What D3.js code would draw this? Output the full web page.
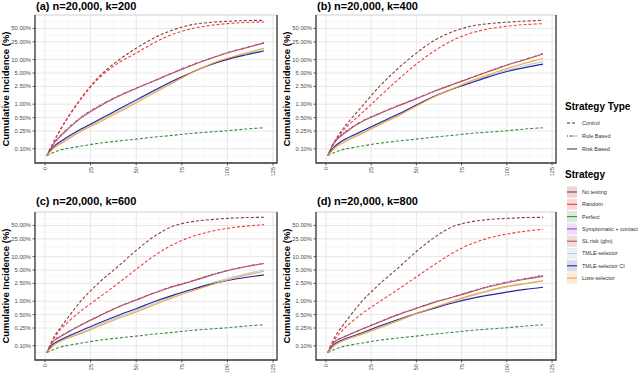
<!DOCTYPE html>
<html>
<head>
<meta charset="utf-8">
<script src="https://cdn.jsdelivr.net/npm/d3@7"></script>
<style>
  body { margin: 0; background: #fff; }
  svg { font-family: "Liberation Sans", Arial, sans-serif; }
</style>
</head>
<body>
<svg id="chart" width="640" height="374"></svg>
<script>
const days = [1, 5, 10, 20, 30, 40, 50, 60, 70, 80, 90, 100, 110, 120];

// Panel titles
const panelTitles = ["(a) n=20,000, k=200", "(b) n=20,000, k=400",
                     "(c) n=20,000, k=600", "(d) n=20,000, k=800"];

// Cumulative incidence (%) per strategy, one row per panel (a..d)
const noTesting = [
  [0.07, 0.15, 0.35, 1.4, 4.3, 9.5, 18, 31, 46, 60, 68, 72, 75, 76],
  [0.07, 0.15, 0.3, 0.9, 2.6, 6.4, 14, 27, 42, 56, 64, 69, 73, 76],
  [0.07, 0.16, 0.31, 1.04, 2.7, 6.0, 13.8, 28.5, 48, 60, 67, 72, 75, 76],
  [0.07, 0.16, 0.31, 1.0, 2.5, 5.6, 13, 27, 47, 60, 68, 72, 75, 76]
];
const random = [
  [0.07, 0.15, 0.34, 1.35, 4.0, 8.3, 14, 24, 37, 49, 58, 64, 68, 70],
  [0.07, 0.14, 0.27, 0.64, 1.53, 3.6, 7.9, 15.7, 27, 39, 49, 56, 61, 64],
  [0.07, 0.15, 0.27, 0.62, 1.24, 2.5, 5.2, 10.5, 18.5, 27.5, 36, 43, 48, 52],
  [0.07, 0.14, 0.24, 0.53, 1.0, 1.85, 3.5, 6.6, 12, 19, 26, 32, 37, 41]
];
const perfect = [
  [0.07, 0.084, 0.097, 0.115, 0.134, 0.149, 0.165, 0.183, 0.2, 0.221, 0.237, 0.254, 0.277, 0.296],
  [0.07, 0.084, 0.097, 0.115, 0.134, 0.149, 0.165, 0.183, 0.2, 0.221, 0.237, 0.254, 0.277, 0.296],
  [0.07, 0.084, 0.097, 0.115, 0.134, 0.149, 0.165, 0.183, 0.2, 0.221, 0.237, 0.254, 0.277, 0.296],
  [0.07, 0.084, 0.097, 0.115, 0.134, 0.149, 0.165, 0.183, 0.2, 0.221, 0.237, 0.254, 0.277, 0.296]
];
const symptomatic = [
  [0.07, 0.136, 0.23, 0.52, 0.94, 1.53, 2.3, 3.4, 5.1, 7.5, 10.5, 14.4, 18.6, 24],
  [0.07, 0.15, 0.23, 0.42, 0.64, 0.94, 1.35, 1.98, 2.8, 3.9, 5.5, 7.6, 10.1, 13.6],
  [0.07, 0.134, 0.18, 0.30, 0.48, 0.74, 1.08, 1.55, 2.15, 2.8, 3.8, 4.9, 6.0, 7.1],
  [0.07, 0.125, 0.16, 0.24, 0.35, 0.51, 0.7, 0.96, 1.24, 1.66, 2.15, 2.7, 3.2, 3.8]
];
const slRisk = [
  [0.07, 0.133, 0.22, 0.5, 0.9, 1.48, 2.25, 3.35, 5.0, 7.3, 10.3, 14.1, 18.2, 23.4],
  [0.07, 0.145, 0.22, 0.41, 0.62, 0.92, 1.32, 1.94, 2.75, 3.85, 5.4, 7.5, 9.9, 13.3],
  [0.07, 0.13, 0.175, 0.295, 0.47, 0.73, 1.06, 1.52, 2.1, 2.75, 3.7, 4.8, 5.9, 7.0],
  [0.07, 0.123, 0.157, 0.235, 0.345, 0.5, 0.69, 0.94, 1.22, 1.62, 2.1, 2.6, 3.1, 3.6]
];
const tmleSelector = [
  [0.07, 0.11, 0.15, 0.265, 0.43, 0.7, 1.18, 1.95, 3.15, 5.05, 7.6, 10.4, 13.4, 16.9],
  [0.07, 0.11, 0.15, 0.235, 0.37, 0.56, 0.95, 1.5, 2.2, 3.15, 4.35, 5.8, 7.4, 9.0],
  [0.07, 0.108, 0.14, 0.2, 0.3, 0.44, 0.62, 0.9, 1.28, 1.8, 2.45, 3.2, 4.1, 5.0],
  [0.07, 0.105, 0.132, 0.18, 0.255, 0.36, 0.52, 0.72, 0.98, 1.3, 1.68, 2.08, 2.42, 2.8]
];
const tmleSelectorCI = [
  [0.07, 0.115, 0.16, 0.28, 0.46, 0.76, 1.25, 2.05, 3.3, 5.1, 7.5, 10.1, 12.7, 15.6],
  [0.07, 0.115, 0.16, 0.25, 0.39, 0.6, 0.96, 1.5, 2.2, 3.0, 4.1, 5.4, 6.6, 7.9],
  [0.07, 0.113, 0.146, 0.22, 0.33, 0.48, 0.68, 0.98, 1.35, 1.8, 2.35, 2.9, 3.4, 3.9],
  [0.07, 0.11, 0.14, 0.195, 0.28, 0.39, 0.53, 0.7, 0.91, 1.14, 1.37, 1.6, 1.84, 2.06]
];
const lossSelector = [
  [0.07, 0.105, 0.14, 0.25, 0.4, 0.65, 1.08, 1.8, 3.0, 5.0, 7.7, 10.7, 14.1, 18],
  [0.07, 0.105, 0.14, 0.22, 0.35, 0.55, 0.91, 1.47, 2.2, 3.3, 4.6, 6.3, 8.3, 10.5],
  [0.07, 0.105, 0.134, 0.19, 0.28, 0.41, 0.57, 0.83, 1.2, 1.66, 2.25, 3.0, 3.8, 4.7],
  [0.07, 0.105, 0.134, 0.185, 0.26, 0.37, 0.53, 0.73, 1.0, 1.35, 1.74, 2.15, 2.5, 2.9]
];

// Axis ticks
const xTicks = [0, 25, 50, 75, 100, 125];
const yTicks = [0.1, 0.25, 0.5, 1, 2.5, 5, 10, 25, 50];

// Strategy definitions (order = drawing order)
const strategyNames = ["No testing", "Random", "Perfect", "Symptomatic + contact",
                       "SL risk (glm)", "TMLE-selector", "TMLE-selector CI", "Loss-selector"];
const strategyData = [noTesting, random, perfect, symptomatic, slRisk,
                      tmleSelector, tmleSelectorCI, lossSelector];
const strategyTypes = ["Control", "Control", "Control", "Rule Based",
                       "Risk Based", "Risk Based", "Risk Based", "Risk Based"];
const strategyColors = ["#8E3B3B", "#F23A3A", "#3E8A3E", "#A23FD6",
                        "#B35A55", "#ADD3E6", "#25259C", "#F7A437"];
const keyFills = ["#EBD6D6", "#FCD9D9", "#DCEADC", "#EEDDF7",
                  "#ECDCDA", "#EAF1F5", "#DCDCEA", "#FCEBD6"];

const typeNames = ["Control", "Rule Based", "Risk Based"];
const dashFor = {
  "Control": "3,2",
  "Rule Based": "1,1.5,3,1.5",
  "Risk Based": null
};

// Panel layout
const panels = [
  { left: 35, right: 277, top: 15, bottom: 163, titleY: 10 },
  { left: 316, right: 556, top: 15, bottom: 163, titleY: 10 },
  { left: 35, right: 277, top: 212, bottom: 360, titleY: 205 },
  { left: 316, right: 556, top: 212, bottom: 360, titleY: 205 }
];

const svg = d3.select("#chart");

const fmtPct = d => d.toFixed(2) + "%";

panels.forEach((p, pi) => {
  const x = d3.scaleLinear().domain([-5.5, 127.2]).range([p.left, p.right]);
  const y = d3.scaleLog().domain([0.048, 100]).range([p.bottom, p.top]);

  const g = svg.append("g");

  // Minor grid (midpoints in transformed space)
  const xMinor = xTicks.slice(0, -1).map(t => t + 12.5);
  const yMinor = yTicks.slice(0, -1).map((t, i) => Math.sqrt(t * yTicks[i + 1]));
  yMinor.push(Math.sqrt(50 * 100));
  yMinor.unshift(Math.sqrt(0.1 * 0.05));

  g.selectAll(".xminor").data(xMinor).enter().append("line")
    .attr("x1", d => x(d)).attr("x2", d => x(d))
    .attr("y1", p.top).attr("y2", p.bottom)
    .attr("stroke", "#f2f2f2").attr("stroke-width", 0.6);
  g.selectAll(".yminor").data(yMinor.filter(d => d > 0.048 && d < 100)).enter().append("line")
    .attr("x1", p.left).attr("x2", p.right)
    .attr("y1", d => y(d)).attr("y2", d => y(d))
    .attr("stroke", "#f2f2f2").attr("stroke-width", 0.6);

  // Major grid
  g.selectAll(".xmajor").data(xTicks).enter().append("line")
    .attr("x1", d => x(d)).attr("x2", d => x(d))
    .attr("y1", p.top).attr("y2", p.bottom)
    .attr("stroke", "#e4e4e4").attr("stroke-width", 0.9);
  g.selectAll(".ymajor").data(yTicks).enter().append("line")
    .attr("x1", p.left).attr("x2", p.right)
    .attr("y1", d => y(d)).attr("y2", d => y(d))
    .attr("stroke", "#e4e4e4").attr("stroke-width", 0.9);

  // Curves
  const line = d3.line()
    .x(d => x(d[0]))
    .y(d => y(d[1]))
    .curve(d3.curveCatmullRom.alpha(0.5));

  strategyData.forEach((series, si) => {
    const pts = days.map((t, i) => [t, series[pi][i]]);
    const path = g.append("path")
      .attr("d", line(pts))
      .attr("fill", "none")
      .attr("stroke", strategyColors[si])
      .attr("stroke-width", 1.1);
    const dash = dashFor[strategyTypes[si]];
    if (dash) path.attr("stroke-dasharray", dash);
  });

  // Panel border: top light, others dark
  g.append("line")
    .attr("x1", p.left).attr("x2", p.right)
    .attr("y1", p.top).attr("y2", p.top)
    .attr("stroke", "#cfcfcf").attr("stroke-width", 1);
  g.append("path")
    .attr("d", `M${p.left},${p.top}V${p.bottom}H${p.right}V${p.top}`)
    .attr("fill", "none")
    .attr("stroke", "#333")
    .attr("stroke-width", 1.3);

  // Y axis ticks and labels
  yTicks.forEach(t => {
    g.append("line")
      .attr("x1", p.left - 2.5).attr("x2", p.left)
      .attr("y1", y(t)).attr("y2", y(t))
      .attr("stroke", "#333").attr("stroke-width", 0.8);
    g.append("text")
      .attr("x", p.left - 4)
      .attr("y", y(t))
      .attr("dy", "0.35em")
      .attr("text-anchor", "end")
      .attr("font-size", 5.8)
      .attr("fill", "#4d4d4d")
      .text(fmtPct(t));
  });

  // X axis ticks and rotated labels
  xTicks.forEach(t => {
    g.append("line")
      .attr("x1", x(t)).attr("x2", x(t))
      .attr("y1", p.bottom).attr("y2", p.bottom + 2.5)
      .attr("stroke", "#333").attr("stroke-width", 0.8);
    g.append("text")
      .attr("transform", `translate(${x(t)},${p.bottom + 4}) rotate(-90)`)
      .attr("dy", "0.35em")
      .attr("text-anchor", "end")
      .attr("font-size", 5.5)
      .attr("fill", "#4d4d4d")
      .text(t);
  });

  // Y axis title
  g.append("text")
    .attr("transform", `translate(${p.left - 26},${(p.top + p.bottom) / 2}) rotate(-90)`)
    .attr("text-anchor", "middle")
    .attr("font-size", 9.5)
    .attr("font-weight", "bold")
    .attr("fill", "#000")
    .text("Cumulative Incidence (%)");

  // Panel title
  g.append("text")
    .attr("x", p.left + 1)
    .attr("y", p.titleY)
    .attr("font-size", 11)
    .attr("font-weight", "bold")
    .attr("fill", "#000")
    .text(panelTitles[pi]);
});

// Legends
const legend = svg.append("g");
const keyX0 = 567, keyX1 = 577, labelX = 582;

legend.append("text")
  .attr("x", 565).attr("y", 110)
  .attr("font-size", 10).attr("font-weight", "bold")
  .text("Strategy Type");

typeNames.forEach((name, i) => {
  const cy = 123 + i * 13;
  const l = legend.append("line")
    .attr("x1", keyX0).attr("x2", keyX1)
    .attr("y1", cy).attr("y2", cy)
    .attr("stroke", "#333").attr("stroke-width", 1);
  if (dashFor[name]) l.attr("stroke-dasharray", dashFor[name]);
  legend.append("text")
    .attr("x", labelX).attr("y", cy)
    .attr("dy", "0.35em")
    .attr("font-size", 5.5).attr("fill", "#333")
    .text(name);
});

legend.append("text")
  .attr("x", 565).attr("y", 178)
  .attr("font-size", 10).attr("font-weight", "bold")
  .text("Strategy");

strategyNames.forEach((name, i) => {
  const cy = 192 + i * 12.3;
  legend.append("rect")
    .attr("x", keyX0).attr("y", cy - 5.6)
    .attr("width", keyX1 - keyX0).attr("height", 11.2)
    .attr("fill", keyFills[i]);
  legend.append("line")
    .attr("x1", keyX0).attr("x2", keyX1)
    .attr("y1", cy).attr("y2", cy)
    .attr("stroke", strategyColors[i]).attr("stroke-width", 1.1);
  legend.append("text")
    .attr("x", labelX).attr("y", cy)
    .attr("dy", "0.35em")
    .attr("font-size", 5.5).attr("fill", "#333")
    .text(name);
});
</script>
</body>
</html>
